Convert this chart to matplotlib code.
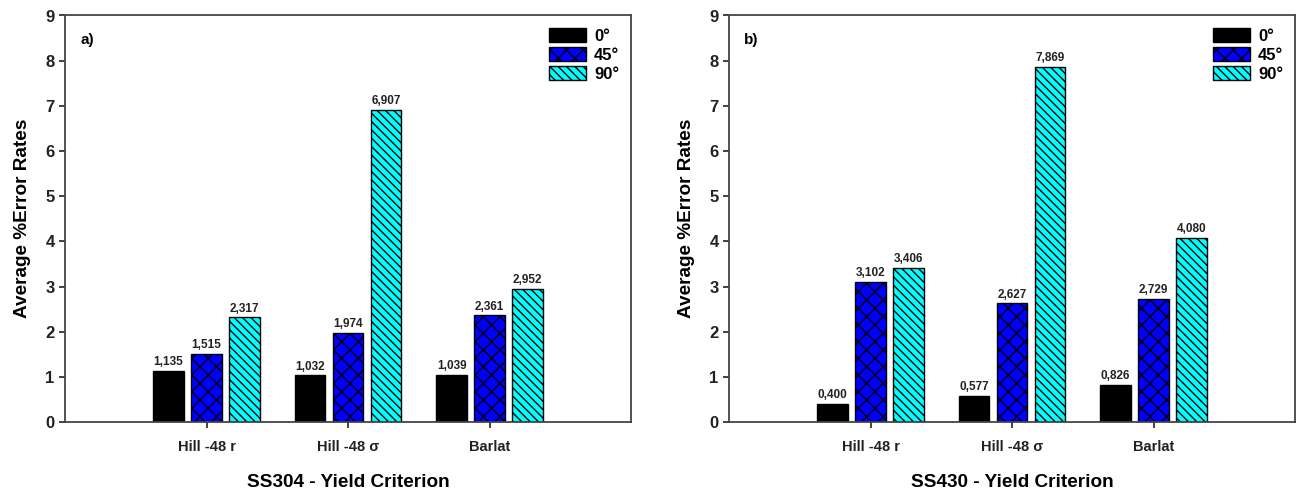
import matplotlib
matplotlib.use("Agg")
import matplotlib.pyplot as plt
import numpy as np

plt.rcParams['font.family'] = ['Liberation Sans', 'DejaVu Sans']
plt.rcParams['hatch.linewidth'] = 1.0

categories = ["Hill -48 r", "Hill -48 σ", "Barlat"]
angles = ["0°", "45°", "90°"]

ss304_0 = [1.135, 1.032, 1.039]
ss304_45 = [1.515, 1.974, 2.361]
ss304_90 = [2.317, 6.907, 2.952]

ss430_0 = [0.400, 0.577, 0.826]
ss430_45 = [3.102, 2.627, 2.729]
ss430_90 = [3.406, 7.869, 4.080]

panels = [
    ("a)", "SS304 - Yield Criterion", [ss304_0, ss304_45, ss304_90]),
    ("b)", "SS430 - Yield Criterion", [ss430_0, ss430_45, ss430_90]),
]

colors = ["black", "#0000FF", "#00FFFF"]
hatches = [None, "xx", "\\\\\\\\"]

fig = plt.figure(figsize=(12.96, 4.90), dpi=100)
axes_pos = [[65/1296, 1-422/490, 566/1296, 406.5/490],
            [729/1296, 1-422/490, 566/1296, 406.5/490]]

x = np.arange(1, len(categories) + 1)
width = 0.215
offset = 0.268

for pos, (tag, xlabel, series) in zip(axes_pos, panels):
    ax = fig.add_axes(pos)
    for i, vals in enumerate(series):
        bars = ax.bar(x + (i - 1) * offset, vals, width, color=colors[i],
                      edgecolor="black", linewidth=1.0, hatch=hatches[i],
                      label=angles[i])
        for b, v in zip(bars, vals):
            ax.text(b.get_x() + b.get_width() / 2, v + 0.06,
                    f"{v:.3f}".replace(".", ","), ha="center", va="bottom",
                    fontsize=8.5, fontweight="bold", color="#222222")
    ax.set_xlim(0, 4)
    ax.set_ylim(0, 9)
    ax.set_yticks(range(0, 10))
    ax.set_xticks(x)
    ax.set_xticklabels(categories)
    ax.tick_params(axis="both", direction="out", length=4, width=1.2,
                   colors="#222222", labelsize=12)
    ax.tick_params(axis="x", labelsize=10.5, pad=9)
    for lab in ax.get_yticklabels() + ax.get_xticklabels():
        lab.set_fontweight("bold")
    for sp in ax.spines.values():
        sp.set_linewidth(1.3)
        sp.set_color("#444444")
    ax.set_ylabel("Average %Error Rates", fontsize=13.7, fontweight="bold",
                  labelpad=10)
    ax.set_xlabel(xlabel, fontsize=13.7, fontweight="bold", labelpad=14)
    ax.text(0.027, 0.94, tag, transform=ax.transAxes, fontsize=11,
            fontweight="bold", va="center", ha="left")
    leg = ax.legend(loc="upper right", frameon=False, fontsize=12,
                    handlelength=2.2, handleheight=0.9, labelspacing=0.2,
                    handletextpad=0.5, borderaxespad=0.3,
                    bbox_to_anchor=(1.0, 0.997))
    for t in leg.get_texts():
        t.set_fontweight("bold")

fig.savefig("out.png", dpi=100)
